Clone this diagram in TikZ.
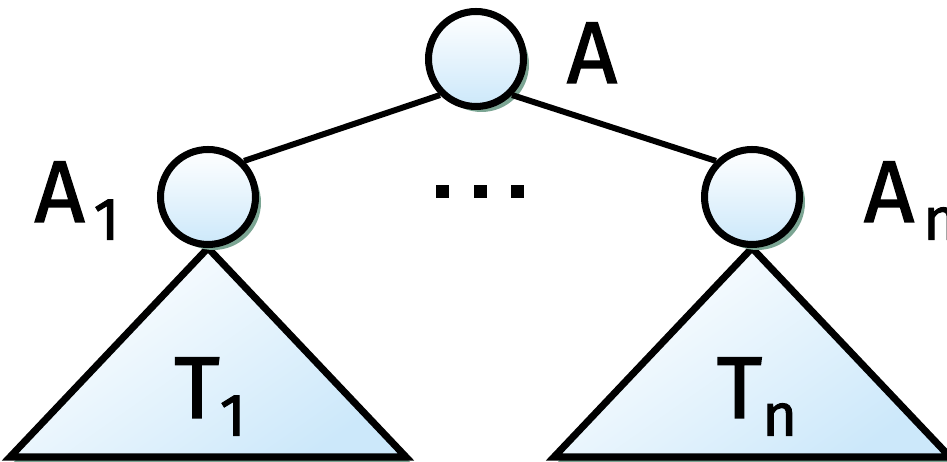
\documentclass[tikz,border=0pt]{standalone}
\usepackage{fontspec}
\setmainfont{Fira Sans}[UprightFeatures={FakeBold=1.6}]
\usepackage{xcolor}
\definecolor{nodeblue}{HTML}{CCE8FA}
\definecolor{shadowgreen}{HTML}{7BA593}
\usepackage{tikz}
\usetikzlibrary{shadows, backgrounds, positioning}
\newcommand{\lowidx}[1]{\raisebox{-10pt}{\fontsize{34}{34}\selectfont #1}}
\newcommand{\sqdot}{\rule{.26cm}{.26cm}}

\begin{document}
\begin{tikzpicture}[
    x=0.02cm, y=0.02cm,
    font=\fontsize{50}{54}\selectfont,
    treenode/.style={circle, draw, line width=4pt, minimum size=1.9cm,
      inner sep=0pt, top color=white, bottom color=nodeblue,
      drop shadow={shadow xshift=.11cm, shadow yshift=-.11cm,
        fill=shadowgreen, opacity=1}},
    subtree/.style={draw, line width=4pt, line join=miter,
      top color=white, bottom color=nodeblue, shading angle=35,
      drop shadow={shadow xshift=.08cm, shadow yshift=-.1cm,
        fill=shadowgreen, opacity=1}},
    lbl/.style={anchor=base, inner sep=0pt},
    branch/.style={line width=3.4pt}
  ]
  \useasboundingbox (0,0) rectangle (947,462);
  \node[treenode] (A) at (476,403) {};
  \node[treenode] (A1) at (208,265) {};
  \node[treenode] (An) at (752,265) {};
  % node names
  \node[lbl] (labA) at (592,379) {A};
  \node[lbl] (labA1) at (77,240) {A\kern5pt\lowidx{1}};
  \node[lbl] (labAn) at (911,240) {A\kern5pt\lowidx{n}};
  \node[lbl] (dots) at (480,264) {\sqdot\kern.5cm\sqdot\kern.48cm\sqdot};
  \draw[branch] (A.south west) -- (A1.north east);
  \draw[branch] (A.south east) -- (An.north west);
  % subtrees hang below the children
  \begin{scope}[on background layer]
    \draw[subtree] (A1.south) -- ++(-198,-209) -- ++(396,0) -- cycle;
    \draw[subtree] (An.south) -- ++(-198,-209) -- ++(396,0) -- cycle;
  \end{scope}
  \node[lbl] (labT1) at (210,44) {T\lowidx{1}};
  \node[lbl] (labTn) at (757,44) {T\lowidx{n}};
\end{tikzpicture}
\end{document}
